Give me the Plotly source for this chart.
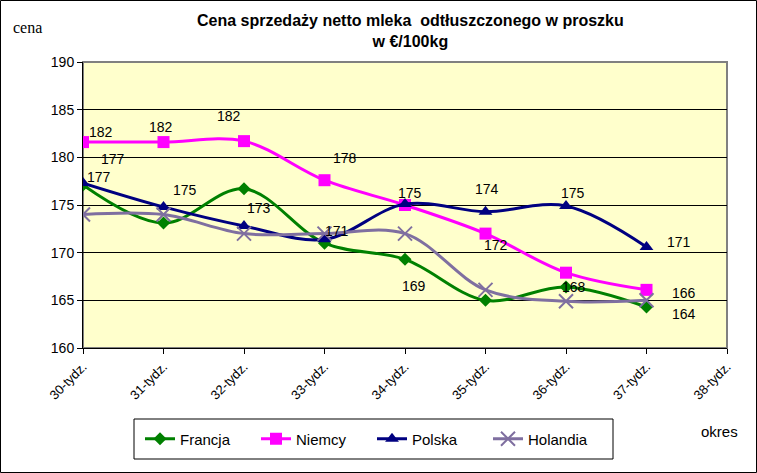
import plotly.graph_objects as go

categories = ["30-tydz.", "31-tydz.", "32-tydz.", "33-tydz.", "34-tydz.",
              "35-tydz.", "36-tydz.", "37-tydz.", "38-tydz."]
francja = [177.1, 173.1, 176.7, 171.0, 169.3, 165.0, 166.4, 164.3]
niemcy = [181.6, 181.6, 181.7, 177.6, 175.0, 172.0, 167.9, 166.1]
polska = [177.3, 174.8, 172.8, 171.4, 175.1, 174.3, 174.9, 170.6]
holandia = [174.0, 174.0, 172.0, 172.0, 172.0, 166.1, 164.9, 165.0]
y_ticks = [160, 165, 170, 175, 180, 185, 190]

xs = list(range(len(categories)))

# pixel geometry of plot area
L, R, T, B = 83, 727, 62, 348
PW, PH = R - L, B - T


def px(xp):
    return (xp - L) / PW


def py(yp):
    return (B - yp) / PH


fig = go.Figure()

series = [
    ("Francja", francja, "#008000", dict(symbol="diamond", size=10)),
    ("Niemcy", niemcy, "#FF00FF", dict(symbol="square", size=12)),
    ("Polska", polska, "#000080", dict(symbol="triangle-up", size=12)),
    ("Holandia", holandia, "#7F6FA0", dict(symbol="x-thin", size=14,
                                         line=dict(width=2, color="#7F6FA0"))),
]
for name, vals, col, mk in series:
    fig.add_trace(go.Scatter(
        x=xs[:len(vals)], y=vals, name=name, mode="lines+markers",
        line=dict(color=col, width=3, shape="spline", smoothing=1),
        marker=dict(color=col, **mk),
    ))

# data labels: (series values, index, xshift, yshift)
label_spec = [
    (niemcy, 0, 18, 10), (niemcy, 1, -3, 15), (niemcy, 2, -15, 25),
    (niemcy, 3, 20, 22), (niemcy, 5, 10, -11), (niemcy, 6, 8, -14),
    (niemcy, 7, 37, -3),
    (polska, 0, 30, 24), (polska, 1, 21, 17), (polska, 2, 15, 18),
    (polska, 3, 12, 8), (polska, 4, 5, 11), (polska, 5, 1, 23),
    (polska, 6, 7, 13), (polska, 7, 32, 5),
    (francja, 0, 16, 8), (francja, 4, 9, -27), (francja, 7, 37, -7),
]
for vals, i, dx, dy in label_spec:
    fig.add_annotation(x=xs[i], y=vals[i], text=f"{vals[i]:.0f}",
                       showarrow=False, xshift=dx, yshift=dy,
                       font=dict(family="Arial, Liberation Sans", size=14, color="black"))

fig.add_annotation(xref="paper", yref="paper", x=px(410), y=py(31),
                   text="<b>Cena sprzedaży netto mleka\u00a0 odtłuszczonego w proszku<br>w €/100kg</b>",
                   showarrow=False, xanchor="center", yanchor="middle",
                   font=dict(family="Arial, Liberation Sans", size=16, color="black"))
fig.add_annotation(xref="paper", yref="paper", x=px(11), y=py(27), text="cena",
                   showarrow=False, xanchor="left", yanchor="middle",
                   font=dict(family="Liberation Serif, Times New Roman", size=16, color="black"))
fig.add_annotation(xref="paper", yref="paper", x=px(699), y=py(431), text="okres",
                   showarrow=False, xanchor="left", yanchor="middle",
                   font=dict(family="Arial, Liberation Sans", size=15, color="black"))

# plot area border (gray)
fig.add_shape(type="rect", xref="paper", yref="paper", x0=0, y0=0, x1=1, y1=1,
              line=dict(color="#808080", width=2), layer="between")
# legend box
fig.add_shape(type="rect", xref="paper", yref="paper",
              x0=px(134), x1=px(613), y0=py(459), y1=py(419),
              line=dict(color="black", width=1), fillcolor="white", layer="below")
# outer chart border
fig.add_shape(type="rect", xref="paper", yref="paper",
              x0=px(0.5), x1=px(756.5), y0=py(472.5), y1=py(0.5),
              line=dict(color="black", width=1), layer="above")

fig.update_layout(
    width=757, height=473,
    margin=dict(l=L, r=757 - R, t=T, b=473 - B),
    paper_bgcolor="white", plot_bgcolor="#FFFFCC",
    font=dict(family="Arial, Liberation Sans", size=13, color="black"),
    showlegend=True,
    legend=dict(orientation="h", xref="container", yref="container",
                x=140/757, y=1 - 439/473, xanchor="left", yanchor="middle",
                borderwidth=0, bgcolor="rgba(0,0,0,0)",
                font=dict(size=15), itemwidth=30, tracegroupgap=0,
                entrywidth=71),
)
fig.update_xaxes(range=[0, 8], tickmode="array", tickvals=xs, ticktext=categories,
                 tickangle=-45, showgrid=False, zeroline=False,
                 showline=True, linecolor="black", linewidth=1,
                 ticks="outside", ticklen=5, tickcolor="black",
                 tickfont=dict(size=13))
fig.update_yaxes(range=[160, 190], tickmode="array", tickvals=y_ticks,
                 showgrid=True, gridcolor="black", gridwidth=1, zeroline=False,
                 showline=True, linecolor="black", linewidth=1,
                 ticks="outside", ticklen=5, tickcolor="black",
                 tickfont=dict(size=14))

fig.write_html("out.html", config={"displayModeBar": False},
               post_script="document.body.style.margin='0';document.body.style.overflow='hidden';")
